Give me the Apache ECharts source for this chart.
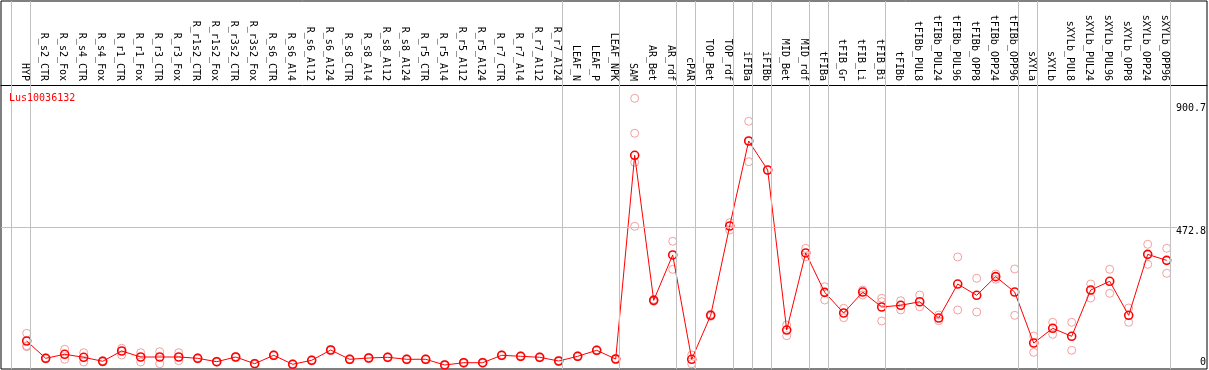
<!DOCTYPE html>
<html>
<head>
<meta charset="utf-8">
<script src="https://cdn.jsdelivr.net/npm/echarts@6/dist/echarts.min.js"></script>
<style>
html,body{margin:0;padding:0;background:#fff;}
#chart{width:1209px;height:370px;}
</style>
</head>
<body>
<div id="chart"></div>
<script>
const geneName = 'Lus10036132';
const categories = ['HYP','R_s2_CTR','R_s2_Fox','R_s4_CTR','R_s4_Fox','R_r1_CTR','R_r1_Fox','R_r3_CTR','R_r3_Fox','R_r1s2_CTR','R_r1s2_Fox','R_r3s2_CTR','R_r3s2_Fox','R_s6_CTR','R_s6_Al4','R_s6_Al12','R_s6_Al24','R_s8_CTR','R_s8_Al4','R_s8_Al12','R_s8_Al24','R_r5_CTR','R_r5_Al4','R_r5_Al12','R_r5_Al24','R_r7_CTR','R_r7_Al4','R_r7_Al12','R_r7_Al24','LEAF_N','LEAF_P','LEAF_NPK','SAM','AR_Bet','AR_rdf','cPAR','TOP_Bet','TOP_rdf','iFIBa','iFIBb','MID_Bet','MID_rdf','tFIBa','tFIB_Gr','tFIB_Li','tFIB_Bi','tFIBb','tFIBb_PUL8','tFIBb_PUL24','tFIBb_PUL96','tFIBb_OPP8','tFIBb_OPP24','tFIBb_OPP96','sXYLa','sXYLb','sXYLb_PUL8','sXYLb_PUL24','sXYLb_PUL96','sXYLb_OPP8','sXYLb_OPP24','sXYLb_OPP96'];
const meanValues = [73.6,13,27,16.5,2.5,38.5,17.5,17.5,17.5,13,1,17.5,-6,23.5,-8,6,42,9.5,14,16.5,9.5,9.5,-10.5,-2.5,-2.5,23.5,20,16.5,3.5,20,41,10.5,724,216,375,9.5,163.6,476.4,774,672.5,112,382,244,171.6,245,192.6,198.6,211,154,273,233.6,299,245,66.5,118,90,252,282.7,163.6,377,356];
const replicateValues = [
 [100.5,57,53.6],[15,11],[44.5,9.5],[32.6,0],[5,0],[48,24.5],[32.6,0],[36,-6],[32.6,4.6],[15,11],
 [3,-1],[19.5,15.5],[-4,-8],[25.5,21.5],[-6,-10],[8,4],[44,40],[11.5,7.5],[16,12],[18.5,14.5],
 [11.5,7.5],[11.5,7.5],[-8.5,-12.5],[-0.5,-4.5],[-0.5,-4.5],[25.5,21.5],[22,18],[18.5,14.5],[5.5,1.5],[22,18],
 [43,39],[12.5,8.5],[923.6,801.1,699.5,475.3],[219.6,212.6],[422.8,324.7],[24.5,-6],[167,160],[487.9,462.3],[843.1,774,701.6],[672.5],
 [129.6,92.1],[398.2,368.8],[263.7,217.2],[188.1,155.2],[252.2,234.7],[223.1,211.2,143.6],[214.7,182.1],[234.7,193.7],[164.6,144.7],[367.8,182.1],
 [293.2,175.1],[308.2,289.7],[325.7,163.6],[91.1,34],[139.1,97],[139.1,41],[273.2,224.2],[324.7,240.6],[189.1,139.1],[412.3,342.2],
 [398.2,310.7]
];
const groupEnds = [-1,0,28,31,34,35,37,38,39,41,42,45,52,53,60];
const yTickLabels = [0, 472.8, 900.7];
const midLine = 472.8;

const FONT = 'DejaVu Sans Mono';
const XMIN = -1.3526, XMAX = 62.121, XGRID_END = 60.54;
const YMIN = -24.5, YMAX = 1264.4;
const LABEL_SHIFT = 0.13;

const meanData = meanValues.map((v, i) => [i, v]);
const repData = [];
replicateValues.forEach((arr, i) => arr.forEach(v => repData.push([i, v])));

const chart = echarts.init(document.getElementById('chart'), null, {renderer: 'canvas'});
chart.setOption({
  animation: false,
  backgroundColor: '#fff',
  title: {
    text: geneName, left: 4, top: 88,
    textStyle: {color: '#ff0000', fontSize: 10, fontFamily: FONT, fontWeight: 'normal'}
  },
  grid: {
    left: 1, right: 2, top: 1, bottom: 1,
    show: true, borderColor: '#000', borderWidth: 1, backgroundColor: '#fff',
    containLabel: false, outerBoundsMode: 'none'
  },
  xAxis: {
    type: 'value', min: XMIN, max: XMAX, position: 'top', offset: -84,
    axisLine: {show: true, onZero: false, lineStyle: {color: '#000', width: 1}},
    axisTick: {show: false},
    splitLine: {show: false},
    axisLabel: {
      customValues: categories.map((c, i) => i - LABEL_SHIFT),
      formatter: v => categories[Math.round(v)],
      rotate: 90, margin: 4,
      fontFamily: FONT, fontSize: 10, color: '#000',
      hideOverlap: false
    }
  },
  yAxis: {
    type: 'value', min: YMIN, max: YMAX, position: 'right',
    axisLine: {show: false}, axisTick: {show: false}, splitLine: {show: false},
    axisLabel: {
      inside: true, margin: 1,
      customValues: yTickLabels,
      formatter: v => (v === 0 ? '{z|' + v + '}' : '{p|' + v + '}'),
      rich: {
        z: {fontFamily: FONT, fontSize: 10, color: '#000'},
        p: {fontFamily: FONT, fontSize: 10, color: '#000', padding: [8, 0, 0, 0]}
      }
    }
  },
  series: [
    {
      type: 'line', data: [], z: 1, silent: true,
      markLine: {
        silent: true, symbol: 'none', animation: false,
        label: {show: false},
        lineStyle: {color: '#c0c0c0', width: 1, type: 'solid'},
        data: groupEnds.map(k => ({xAxis: k + 0.21})).concat([
          [{coord: [XMIN, midLine]}, {coord: [XGRID_END, midLine]}]
        ])
      }
    },
    {
      type: 'scatter', data: repData, z: 2, symbol: 'circle', symbolSize: 8,
      itemStyle: {color: 'rgba(0,0,0,0)', borderColor: '#f08888', borderWidth: 1}
    },
    {
      type: 'line', data: meanData, z: 3, symbol: 'circle', symbolSize: 8,
      lineStyle: {color: '#ff0000', width: 1},
      itemStyle: {color: 'rgba(0,0,0,0)', borderColor: '#ff0000', borderWidth: 1.6}
    }
  ]
});
</script>
</body>
</html>
